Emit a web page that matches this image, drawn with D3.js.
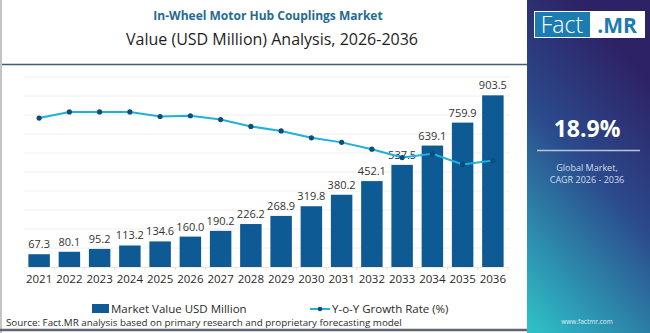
<!DOCTYPE html>
<html><head><meta charset="utf-8">
<script src="https://cdn.jsdelivr.net/npm/d3@7"></script>
<style>html,body{margin:0;padding:0;background:#fff;}svg{display:block;font-family:"Open Sans",sans-serif;}</style>
</head><body><svg id="c" width="650" height="333"></svg>
<script>
const years = ["2021","2022","2023","2024","2025","2026","2027","2028","2029","2030","2031","2032","2033","2034","2035","2036"];
const marketValue = [67.3,80.1,95.2,113.2,134.6,160.0,190.2,226.2,268.9,319.8,380.2,452.1,537.5,639.1,759.9,903.5];
const growthRate = [19.6,20.4,20.4,20.4,19.8,19.9,19.4,18.5,17.9,17.0,16.4,15.5,14.4,14.9,13.5,14.0];
const gridTicks = [100,200,300,400,500,600,700,800,900,1000];

const svg = d3.select("#c");
const defs = svg.append("defs");
const g = defs.append("linearGradient").attr("id","pg").attr("x1","0.4").attr("y1","0").attr("x2","0").attr("y2","1");
g.append("stop").attr("offset","0").attr("stop-color","#2d2265");
g.append("stop").attr("offset","0.4").attr("stop-color","#2b4a8c");
g.append("stop").attr("offset","1").attr("stop-color","#2ec4c9");

// frame
svg.append("rect").attr("x",0).attr("y",0).attr("width",2).attr("height",333).attr("fill","#c4c4c4");
svg.append("line").attr("x1",2).attr("x2",527).attr("y1",64.5).attr("y2",64.5).attr("stroke","#3d5d78").attr("stroke-width",1.5);
svg.append("line").attr("x1",0).attr("x2",527).attr("y1",330).attr("y2",330).attr("stroke","#5f6670").attr("stroke-width",2.5);

// titles
svg.append("text").attr("x",268).attr("y",20).attr("text-anchor","middle").attr("font-size",12).attr("font-weight",700).attr("fill","#246b93").text("In-Wheel Motor Hub Couplings Market");
svg.append("text").attr("x",272).attr("y",45).attr("text-anchor","middle").attr("font-size",16).attr("fill","#1e1e1e").text("Value (USD Million) Analysis, 2026-2036");

const x = d3.scaleBand().domain(years).range([24,508]).paddingInner(0.29).paddingOuter(0.145);
const y = d3.scaleLinear().domain([0,1000]).range([267,77]);
const y2 = d3.scaleLinear().domain([0,25]).range([267,77]);

// grid
svg.append("g").selectAll("line").data(gridTicks).join("line")
  .attr("x1",24).attr("x2",510).attr("y1",d=>y(d)).attr("y2",d=>y(d))
  .attr("stroke","#eeeeee").attr("stroke-width",1);

// axis
const ax = svg.append("g").attr("transform","translate(0,267)")
  .call(d3.axisBottom(x).tickSize(3).tickSizeOuter(0));
ax.select(".domain").attr("stroke","#f3e6dc");
ax.selectAll(".tick line").attr("stroke","#f1d9c8").attr("transform",`translate(${x.step()/2},0)`);
ax.selectAll(".tick text").attr("font-size",11.5).attr("fill","#2a2a2a").attr("dy","0.9em").attr("font-family","Open Sans, sans-serif");

// bars
svg.append("g").selectAll("rect").data(marketValue).join("rect")
  .attr("x",(d,i)=>x(years[i])).attr("y",d=>y(d)).attr("width",x.bandwidth()).attr("height",d=>267-y(d))
  .attr("fill","#0d5a95");
svg.append("g").selectAll("text").data(marketValue).join("text")
  .attr("x",(d,i)=>x(years[i])+x.bandwidth()/2).attr("y",d=>y(d)-6)
  .attr("text-anchor","middle").attr("font-size",11).attr("fill","#333").text(d=>d.toFixed(1));

// line
const line = d3.line().x((d,i)=>x(years[i])+x.bandwidth()/2).y(d=>y2(d));
svg.append("path").datum(growthRate).attr("d",line).attr("fill","none").attr("stroke","#1eb1da").attr("stroke-width",2);
svg.append("g").selectAll("circle").data(growthRate).join("circle")
  .attr("cx",(d,i)=>x(years[i])+x.bandwidth()/2).attr("cy",d=>y2(d)).attr("r",2.6).attr("fill","#0c4d78");

// legend
svg.append("rect").attr("x",92).attr("y",304).attr("width",17).attr("height",9).attr("fill","#0d5a95");
svg.append("text").attr("x",111).attr("y",313).attr("font-size",11.5).attr("fill","#2a2a2a").text("Market Value USD Million");
svg.append("line").attr("x1",310).attr("x2",330).attr("y1",309).attr("y2",309).attr("stroke","#1eb1da").attr("stroke-width",2);
svg.append("circle").attr("cx",320).attr("cy",309).attr("r",2.3).attr("fill","#0c4d78");
svg.append("text").attr("x",332).attr("y",313).attr("font-size",11.5).attr("fill","#2a2a2a").text("Y-o-Y Growth Rate (%)");
svg.append("text").attr("x",6).attr("y",326).attr("font-size",9.8).attr("fill","#2a2a2a").text("Source: Fact.MR analysis based on primary research and proprietary forecasting model");

// right panel
svg.append("rect").attr("x",527).attr("y",0).attr("width",123).attr("height",333).attr("fill","url(#pg)");
svg.append("rect").attr("x",534).attr("y",11).attr("width",111).attr("height",27).attr("fill","#fff");
svg.append("rect").attr("x",535).attr("y",12).attr("width",55).attr("height",25).attr("fill","#1b7cb1");
svg.append("text").attr("x",562).attr("y",33).attr("text-anchor","middle").attr("font-size",23).attr("font-weight",300).attr("fill","#fff").text("Fact");
svg.append("text").attr("x",617).attr("y",33).attr("text-anchor","middle").attr("font-size",21).attr("font-weight",700).attr("fill","#1b7cb1").text(".MR");
svg.append("text").attr("x",587).attr("y",137).attr("text-anchor","middle").attr("font-size",23).attr("font-weight",700).attr("fill","#fff").text("18.9%");
svg.append("line").attr("x1",537).attr("x2",640).attr("y1",150.5).attr("y2",150.5).attr("stroke","#b9c4dc").attr("stroke-width",1.5);
svg.append("text").attr("x",587).attr("y",171).attr("text-anchor","middle").attr("font-size",9).attr("fill","#d2dbeb").text("Global Market,");
svg.append("text").attr("x",587).attr("y",183).attr("text-anchor","middle").attr("font-size",9).attr("fill","#d2dbeb").text("CAGR 2026 - 2036");
svg.append("text").attr("x",587).attr("y",324).attr("text-anchor","middle").attr("font-size",6.5).attr("fill","#e0eef2").text("www.factmr.com");
</script></body></html>
